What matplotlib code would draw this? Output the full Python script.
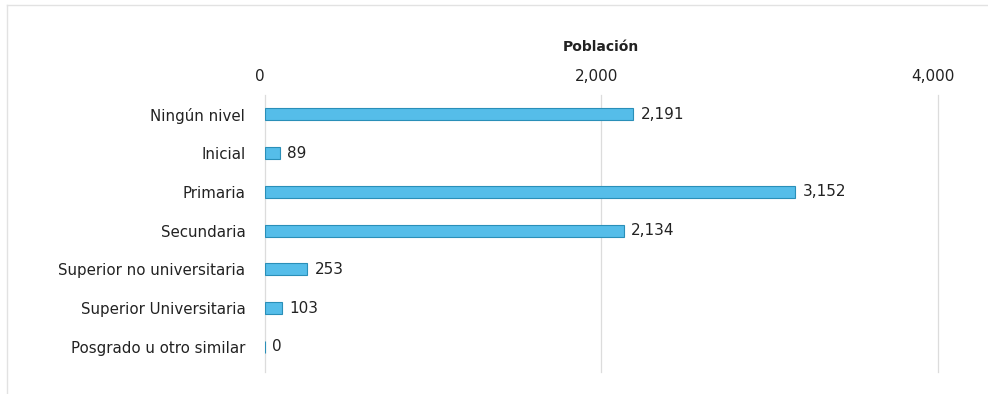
import matplotlib.pyplot as plt
import matplotlib.transforms as mtransforms
from matplotlib.lines import Line2D

# education level vs population
niveles = [
    "Ningún nivel",
    "Inicial",
    "Primaria",
    "Secundaria",
    "Superior no universitaria",
    "Superior Universitaria",
    "Posgrado u otro similar",
]
poblacion = [2191, 89, 3152, 2134, 253, 103, 0]
ticks = [0, 2000, 4000]

bar_color = "#55bde9"
edge_color = "#2a8fb8"
text_color = "#222222"

fig = plt.figure(figsize=(9.88, 3.94), dpi=100)
ax = fig.add_axes([0.268, 0.056, 0.681, 0.703])

ypos = list(range(len(niveles)))
ax.barh(ypos, poblacion, height=0.31, color=bar_color,
        edgecolor=edge_color, linewidth=0.8, zorder=3)

for y, v in zip(ypos, poblacion):
    ax.text(v + 45, y, f"{v:,}", va="center", ha="left",
            fontsize=11, color=text_color)

ax.set_xlim(0, 4000)
ax.set_ylim(6.65, -0.5)
ax.set_yticks(ypos)
ax.set_yticklabels(niveles, fontsize=10.8, color=text_color)
ax.set_xticks(ticks)
ax.set_xticklabels([f"{t:,}" for t in ticks], fontsize=11, color=text_color)
ax.xaxis.tick_top()
ax.xaxis.set_label_position("top")
ax.set_xlabel("Población", fontsize=10, fontweight="bold",
              color=text_color, labelpad=13)
ax.tick_params(axis="both", length=0)
ax.tick_params(axis="x", pad=8)
ax.tick_params(axis="y", pad=14)

# axis labels sit a little left of their gridlines
shift = mtransforms.ScaledTranslation(-5 / 100, 0, fig.dpi_scale_trans)
for lbl in ax.get_xticklabels():
    lbl.set_transform(lbl.get_transform() + shift)

ax.grid(axis="x", color="#dcdcdc", linewidth=0.9, zorder=0)
ax.grid(axis="y", visible=False)
for gl in ax.get_xgridlines():
    gl.set_clip_on(False)
for s in ax.spines.values():
    s.set_visible(False)

# light outer frame
fig.add_artist(Line2D([0.007, 1.0], [0.987, 0.987], color="#e2e2e2",
                      linewidth=1, transform=fig.transFigure))
fig.add_artist(Line2D([0.007, 0.007], [0.0, 0.987], color="#e2e2e2",
                      linewidth=1, transform=fig.transFigure))

fig.savefig("out.png", dpi=100, facecolor="white")
